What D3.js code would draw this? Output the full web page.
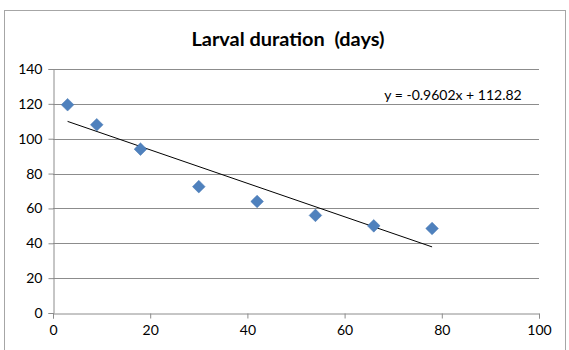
<!DOCTYPE html>
<html><head><meta charset="utf-8">
<script src="https://cdn.jsdelivr.net/npm/d3@7"></script>
<style>body{margin:0;background:#fff}svg{display:block}text{font-family:Lato,"Open Sans",sans-serif}</style>
</head><body>
<svg id="c" width="569" height="350"></svg>
<script>
const xValues = [3, 9, 18, 30, 42, 54, 66, 78];
const yValues = [119.5, 108, 94, 72.5, 64, 56, 50, 48.5];
const xTicks = [0, 20, 40, 60, 80, 100];
const yTicks = [0, 20, 40, 60, 80, 100, 120, 140];
const trendSlope = -0.9602;
const trendIntercept = 112.82;
const title = "Larval duration\u00a0 (days)";
const eqLabel = "y = -0.9602x + 112.82";

const svg = d3.select("#c");
svg.append("rect").attr("x",4.5).attr("y",10.5).attr("width",561).attr("height",345)
  .attr("fill","#fff").attr("stroke","#a6a6a6");

const x = d3.scaleLinear().domain([0,100]).range([53,539]);
const y = d3.scaleLinear().domain([0,140]).range([313,69]);

svg.append("g").selectAll("line").data(yTicks.filter(d=>d>0)).join("line")
  .attr("x1",53).attr("x2",539).attr("y1",d=>Math.round(y(d))+0.5).attr("y2",d=>Math.round(y(d))+0.5)
  .attr("stroke","#8c8c8c").attr("stroke-width",1);

const gy = svg.append("g").attr("transform","translate(53.5,0)")
  .call(d3.axisLeft(y).tickValues(yTicks).tickSize(5).tickPadding(6).tickFormat(d3.format("d")));
const gx = svg.append("g").attr("transform","translate(0,313.5)")
  .call(d3.axisBottom(x).tickValues(xTicks).tickSize(5).tickPadding(7).tickFormat(d3.format("d")));
[gx,gy].forEach(g=>{
  g.select(".domain").attr("stroke","#8c8c8c");
  g.selectAll(".tick line").attr("stroke","#8c8c8c");
  g.selectAll("text").attr("font-size",14).attr("fill","#000").style("font-family","Lato, 'Open Sans', sans-serif");
});

const x0 = d3.min(xValues), x1 = d3.max(xValues);
svg.append("line").attr("x1",x(x0)).attr("y1",y(trendSlope*x0+trendIntercept))
  .attr("x2",x(x1)).attr("y2",y(trendSlope*x1+trendIntercept))
  .attr("stroke","#000").attr("stroke-width",1);

svg.append("g").selectAll("path").data(xValues.map((v,i)=>[v,yValues[i]])).join("path")
  .attr("d", d3.symbol().type(d3.symbolSquare).size(80))
  .attr("transform",d=>`translate(${x(d[0])},${y(d[1])}) rotate(45)`)
  .attr("fill","#4f81bd").attr("stroke","#4a7ab5").attr("stroke-width",0.5);

svg.append("text").attr("x",288).attr("y",46).attr("text-anchor","middle")
  .attr("font-size",18.5).attr("font-weight","bold")
  .attr("textLength",193).attr("lengthAdjust","spacingAndGlyphs").text(title);
svg.append("text").attr("x",453).attr("y",100).attr("text-anchor","middle")
  .attr("font-size",14).text(eqLabel);
</script>
</body></html>
